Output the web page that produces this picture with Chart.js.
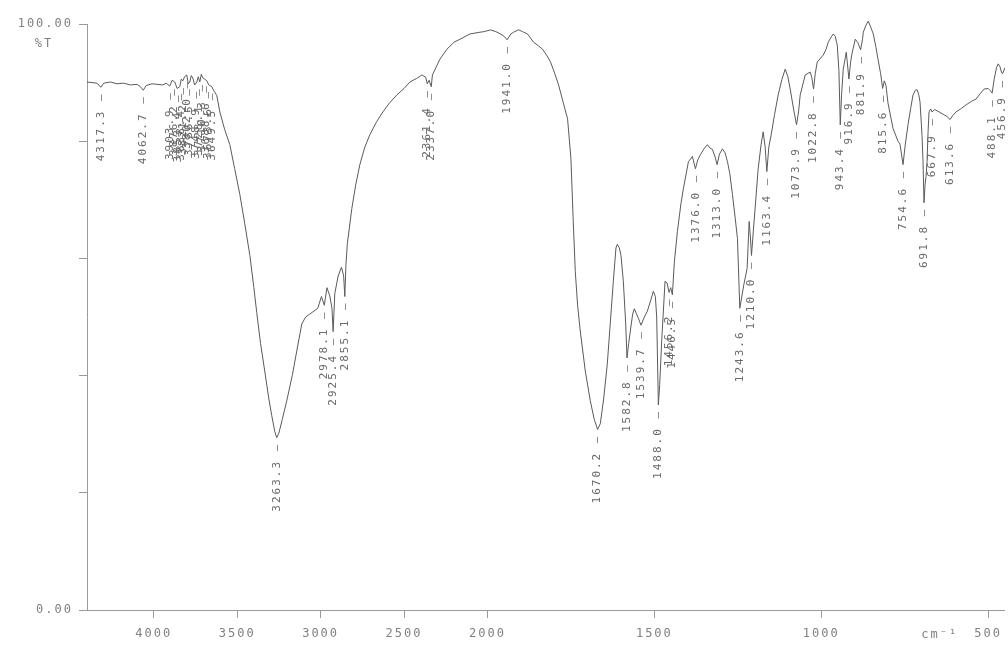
<!DOCTYPE html>
<html>
<head>
<meta charset="utf-8">
<title>IR spectrum</title>
<script src="https://cdn.jsdelivr.net/npm/chart.js@4"></script>
<style>
  html, body { margin: 0; padding: 0; background: #fff; }
  canvas { display: block; }
</style>
</head>
<body>
<canvas id="spectrum" width="1008" height="647"></canvas>
<script>
// wavenumber (cm-1), descending, and %T
const wavenumbers = [
  4400, 4370, 4340, 4317, 4300, 4260, 4220, 4180, 4140, 4100, 4080, 4063, 4045, 4010, 3980,
  3946, 3925, 3904, 3890, 3874, 3860, 3844, 3835, 3826, 3815, 3802, 3793, 3784, 3775, 3766,
  3755, 3742, 3733, 3724, 3715, 3706, 3695, 3682, 3670, 3652, 3640, 3622, 3604, 3575, 3544,
  3515, 3484, 3455, 3424, 3400, 3383, 3360, 3335, 3310, 3293, 3275, 3263, 3250, 3230, 3203,
  3170, 3143, 3113, 3090, 3065, 3040, 3017, 2995, 2978, 2962, 2945, 2932, 2925, 2915, 2895,
  2875, 2862, 2855, 2848, 2840, 2813, 2790, 2765, 2735, 2705, 2665, 2627, 2585, 2543, 2500,
  2465, 2425, 2393, 2370, 2361, 2350, 2337, 2330, 2310, 2285, 2243, 2200, 2165, 2105, 2045,
  2020, 1991, 1975, 1961, 1950, 1941, 1930, 1922, 1907, 1895, 1880, 1862, 1848, 1835, 1823,
  1811, 1800, 1787, 1775, 1760, 1750, 1743, 1737, 1730, 1722, 1707, 1692, 1680, 1670, 1662,
  1652, 1641, 1632, 1623, 1615, 1611, 1605, 1600, 1593, 1586, 1582, 1577, 1572, 1565, 1560,
  1554, 1548, 1540, 1530, 1521, 1510, 1503, 1497, 1493, 1488, 1484, 1478, 1468, 1462, 1456,
  1451, 1446, 1440, 1431, 1420, 1413, 1398, 1386, 1377, 1370, 1362, 1350, 1341, 1333, 1326,
  1318, 1312, 1305, 1296, 1288, 1281, 1274, 1266, 1258, 1251, 1244, 1232, 1222, 1216, 1212,
  1209, 1203, 1189, 1180, 1174, 1168, 1163, 1157, 1150, 1140, 1129, 1118, 1108, 1100, 1093,
  1083, 1074, 1068, 1063, 1048, 1033, 1028, 1023, 1018, 1012, 994, 986, 979, 970, 964,
  958, 952, 947, 943, 939, 934, 925, 917, 912, 907, 898, 890, 882, 876, 874,
  866, 859, 852, 844, 836, 829, 822, 816, 811, 806, 800, 785, 770, 764, 755,
  748, 740, 732, 725, 718, 713, 708, 704, 698, 695, 692, 689, 686, 683, 680,
  677, 672, 668, 660, 647, 635, 623, 614, 607, 596, 580, 566, 550, 536, 524,
  512, 500, 493, 488, 482, 475, 470, 465, 460, 457, 453, 450
];
const transmittance = [
  90.1, 90.0, 89.9, 89.2, 89.9, 90.1, 89.8, 89.9, 89.6, 89.7, 89.3, 88.7, 89.5, 89.8, 89.7,
  89.6, 89.9, 89.4, 90.4, 90.1, 89.0, 89.3, 90.6, 90.3, 91.0, 91.3, 89.8, 90.1, 91.2, 90.8,
  89.6, 90.1, 91.0, 90.1, 91.4, 90.8, 90.6, 90.3, 89.6, 89.3, 88.6, 87.8, 85.0, 82.0, 79.4,
  75.3, 70.9, 66.0, 60.5, 55.0, 50.8, 45.5, 40.8, 36.0, 33.2, 30.5, 29.4, 30.2, 32.5, 35.7,
  40.0, 44.2, 48.8, 50.0, 50.5, 51.0, 51.5, 53.5, 52.0, 55.0, 53.6, 51.5, 47.5, 54.0, 57.0,
  58.5, 57.0, 53.5, 59.0, 62.5, 68.5, 72.5, 76.0, 79.0, 81.1, 83.3, 85.0, 86.6, 87.9, 89.0,
  90.1, 90.7, 91.3, 90.9, 89.8, 90.4, 89.3, 91.3, 92.5, 94.0, 95.7, 96.9, 97.4, 98.3, 98.6,
  98.7, 99.0, 98.7, 98.3, 97.9, 97.3, 98.3, 98.6, 99.0, 98.7, 98.3, 96.9, 96.3, 95.7, 94.7,
  93.5, 91.8, 89.6, 87.0, 83.8, 77.0, 66.3, 57.8, 52.0, 47.6, 40.8, 35.7, 32.5, 30.8, 31.8,
  36.0, 42.0, 49.0, 56.1, 61.8, 62.4, 61.8, 60.5, 56.1, 49.0, 43.0, 45.5, 47.6, 50.5, 51.4,
  50.6, 49.8, 48.6, 50.0, 51.0, 53.0, 54.4, 53.5, 50.0, 35.0, 38.5, 46.0, 56.1, 55.8, 54.2,
  55.0, 53.8, 59.4, 64.6, 69.5, 71.9, 76.5, 77.4, 75.3, 76.8, 77.7, 78.8, 79.4, 78.8, 78.6,
  77.3, 76.0, 77.8, 78.7, 78.0, 76.5, 74.5, 70.9, 67.0, 63.4, 51.5, 55.5, 58.3, 66.3, 63.5,
  60.5, 65.0, 75.3, 79.5, 81.6, 79.0, 74.8, 79.0, 81.1, 84.5, 87.9, 90.5, 92.3, 91.0, 88.9,
  85.5, 82.8, 85.0, 87.9, 91.3, 91.8, 90.8, 88.9, 91.5, 93.5, 94.7, 95.6, 96.9, 97.8, 98.3,
  97.9, 96.4, 92.0, 82.8, 88.0, 92.3, 95.2, 90.6, 93.5, 95.2, 97.4, 96.8, 95.6, 97.5, 98.6,
  99.8, 100.5, 99.5, 98.3, 96.0, 93.7, 91.5, 89.0, 90.3, 89.5, 86.5, 82.2, 80.0, 79.5, 76.0,
  79.5, 82.8, 85.6, 87.9, 88.7, 88.8, 88.0, 86.7, 81.0, 76.5, 69.5, 72.5, 74.0, 76.5, 81.5,
  85.0, 85.5, 85.0, 85.4, 85.0, 84.6, 84.2, 83.7, 84.3, 85.0, 85.6, 86.2, 86.8, 87.2, 88.1,
  88.9, 89.0, 88.6, 88.2, 90.5, 92.5, 93.2, 92.8, 91.8, 91.5, 92.0, 92.5
];

// peak picks printed under the trace
const peakPositions = [
  4317.3, 4062.7, 3903.9, 3876.2, 3853.4, 3838.4, 3821.2, 3802.0, 3786.5, 3748.9, 3728.1,
  3710.3, 3688.6, 3673.6, 3649.5, 3263.3, 2978.1, 2925.4, 2855.1, 2361.4, 2337.0, 1941.0,
  1670.2, 1582.8, 1539.7, 1488.0, 1456.2, 1446.5, 1376.0, 1313.0, 1243.6, 1210.0, 1163.4,
  1073.9, 1022.8, 943.4, 916.9, 881.9, 815.6, 754.6, 691.8, 667.9, 613.6, 488.1, 456.9
];
const peakLabels = peakPositions.map(w => w.toFixed(1));

const xTickWavenumbers = [4000, 3500, 3000, 2500, 2000, 1500, 1000, 500];
const yTickValues = [0, 20, 40, 60, 80, 100];

// the recorder halves the scale above 2000 cm-1
const toAxis = w => (w <= 2000 ? w : 2000 + (w - 2000) / 2);

const points = wavenumbers.map((w, i) => ({ x: toAxis(w), y: transmittance[i] }));

// lowest %T near a pick, so the label hangs under the dip
const dipNear = (w) => {
  let best = null;
  wavenumbers.forEach((v, i) => {
    if (Math.abs(v - w) <= 6 && (best === null || transmittance[i] < best)) best = transmittance[i];
  });
  if (best !== null) return best;
  let k = 0;
  wavenumbers.forEach((v, i) => {
    if (Math.abs(v - w) < Math.abs(wavenumbers[k] - w)) k = i;
  });
  return transmittance[k];
};

const plotter = '"DejaVu Sans Mono", monospace';
const axisGrey = '#9a9a9a';

const peakLabelPlugin = {
  id: 'peakLabels',
  beforeDraw(chart) {
    chart.ctx.letterSpacing = '2px';
  },
  afterDatasetsDraw(chart) {
    const { ctx, chartArea, scales: { x, y } } = chart;
    ctx.save();
    ctx.letterSpacing = '2px';
    ctx.font = '11px ' + plotter;
    ctx.fillStyle = '#6a6a6a';
    ctx.textAlign = 'right';
    ctx.textBaseline = 'middle';
    peakPositions.forEach((w, i) => {
      const px = x.getPixelForValue(toAxis(w));
      const py = y.getPixelForValue(dipNear(w)) + 5;
      ctx.save();
      ctx.translate(px, py);
      ctx.rotate(-Math.PI / 2);
      ctx.fillText(peakLabels[i] + ' –', 0, 0);
      ctx.restore();
    });

    ctx.font = '12px ' + plotter;
    ctx.fillStyle = '#808080';
    ctx.textAlign = 'center';
    ctx.fillText('%T', chartArea.left - 43, chartArea.top + 20);
    ctx.fillText('cm⁻¹', x.getPixelForValue(toAxis(645)), chartArea.bottom + 25);
    ctx.restore();
  },
};

new Chart(document.getElementById('spectrum'), {
  type: 'line',
  data: {
    datasets: [
      {
        label: '%T',
        data: points,
        borderColor: '#5a5a5a',
        borderWidth: 1,
        pointRadius: 0,
        tension: 0,
        fill: false,
        clip: false,
      },
    ],
  },
  options: {
    responsive: false,
    animation: false,
    devicePixelRatio: 1,
    layout: { padding: { top: 24, right: 3, left: 0, bottom: 0 } },
    plugins: {
      legend: { display: false },
      tooltip: { enabled: false },
    },
    scales: {
      x: {
        type: 'linear',
        reverse: true,
        min: toAxis(450),
        max: toAxis(4400),
        afterBuildTicks: (scale) => {
          scale.ticks = xTickWavenumbers.map(w => ({ value: toAxis(w) }));
        },
        afterFit: (scale) => {
          scale.height = 37;
        },
        ticks: {
          autoSkip: false,
          maxRotation: 0,
          padding: 9,
          color: '#808080',
          font: { family: plotter, size: 12 },
          callback: (value, index) => String(xTickWavenumbers[index]),
        },
        grid: { drawOnChartArea: false, tickLength: 8, color: axisGrey },
        border: { color: axisGrey, width: 1 },
      },
      y: {
        min: 0,
        max: 100,
        afterBuildTicks: (scale) => {
          scale.ticks = yTickValues.map(v => ({ value: v }));
        },
        afterFit: (scale) => {
          scale.width = 87;
        },
        ticks: {
          padding: 6,
          color: '#808080',
          font: { family: plotter, size: 12 },
          callback: (value) => (value === 0 || value === 100 ? value.toFixed(2) : ''),
        },
        grid: { drawOnChartArea: false, tickLength: 8, color: axisGrey },
        border: { color: axisGrey, width: 1 },
      },
    },
  },
  plugins: [peakLabelPlugin],
});
</script>
</body>
</html>
